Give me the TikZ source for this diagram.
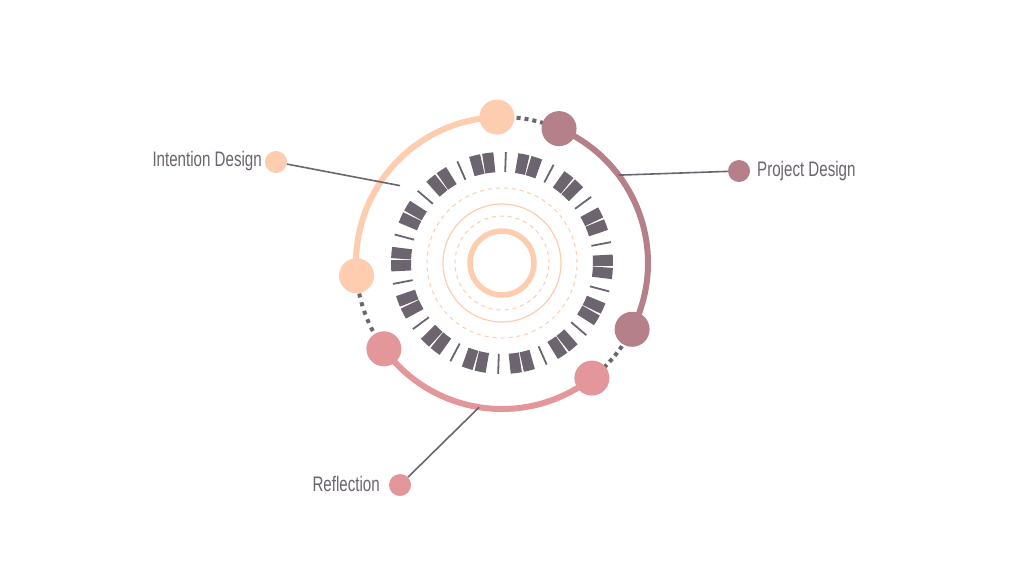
\documentclass[tikz,border=0pt]{standalone}
\usepackage{fontspec}
\setmainfont[FakeStretch=0.72]{Liberation Sans}
\begin{document}
\begin{tikzpicture}[x=1pt,y=1pt,
  peach/.style={draw=cPeach},
  lbl/.style={text=cDark,font=\fontsize{21}{24}\selectfont,inner sep=0pt},
  lead/.style={draw=cDark,line width=1.6pt}]
\definecolor{cPeach}{HTML}{FECDB0}
\definecolor{cMauve}{HTML}{B5808A}
\definecolor{cPink}{HTML}{E3979A}
\definecolor{cDark}{HTML}{6C646E}
\useasboundingbox (0,-576) rectangle (1024,0);
\fill[white] (0,-576) rectangle (1024,0);
\begin{scope}[shift={(502,-263)}]
 % inner circles
 \draw[cPeach,line width=5.5pt] (0,0) circle (32);
 \draw[cPeach,line width=1pt,dash pattern=on 4pt off 4pt] (0,0) circle (47);
 \draw[cPeach,line width=1.2pt] (0,0) circle (59);
 \draw[cPeach,line width=1pt,dash pattern=on 4pt off 4pt] (0,0) circle (75);
 % block ring
 \foreach \k in {0,...,13}{
   \pgfmathsetmacro{\t}{88-25.714*\k}
   \pgfmathsetmacro{\c}{\t-12.857}
   \draw[cDark,line width=1.8pt] (\t:91) -- (\t:111);
   \draw[cDark,line width=20pt] (\c+6.5:101) arc[start angle=\c+6.5,end angle=\c+0.4,radius=101];
   \draw[cDark,line width=20pt] (\c-0.4:101) arc[start angle=\c-0.4,end angle=\c-6.5,radius=101];
 }
 % dashed gaps
 \draw[cDark,line width=4pt,dash pattern=on 4pt off 4pt] (67:146) arc[start angle=67,end angle=92,radius=146];
 \draw[cDark,line width=4pt,dash pattern=on 4pt off 4pt] (-52:146) arc[start angle=-52,end angle=-27,radius=146];
 \draw[cDark,line width=4pt,dash pattern=on 4pt off 5pt] (185:146) arc[start angle=185,end angle=216,radius=146];
 % arcs
 \draw[cPeach,line width=6pt] (92:146) arc[start angle=92,end angle=185,radius=146];
 \draw[cMauve,line width=6pt] (67:146) arc[start angle=67,end angle=-27,radius=146];
 \draw[cPink,line width=6pt] (216:146) arc[start angle=216,end angle=308,radius=146];
 \fill[cPeach] (92:146) circle (17.5);
 \fill[cPeach] (185:146) circle (17.5);
 \fill[cMauve] (67:146) circle (17.5);
 \fill[cMauve] (-27:146) circle (17.5);
 \fill[cPink] (216:146) circle (17.5);
 \fill[cPink] (308:146) circle (17.5);
 \coordinate (aI) at (148:146);
 \coordinate (aP) at (37:146);
 \coordinate (aR) at (261:146);
\end{scope}
% labels
\node[circle,fill=cPeach,minimum size=22pt,inner sep=0pt] (dI) at (276,-162) {};
\node[circle,fill=cMauve,minimum size=22pt,inner sep=0pt] (dP) at (739,-171) {};
\node[circle,fill=cPink,minimum size=22pt,inner sep=0pt] (dR) at (400,-485) {};
\draw[lead] (dI) -- (aI -| 400,0);
\draw[lead] (dP) -- (aP);
\draw[lead] (dR) -- (aR);
\node[lbl,anchor=east] (tI) at (262,-161) {Intention Design};
\node[lbl,anchor=west] (tP) at (757,-171) {Project Design};
\node[lbl,anchor=east] (tR) at (380,-484) {Reflection};
\end{tikzpicture}
\end{document}
